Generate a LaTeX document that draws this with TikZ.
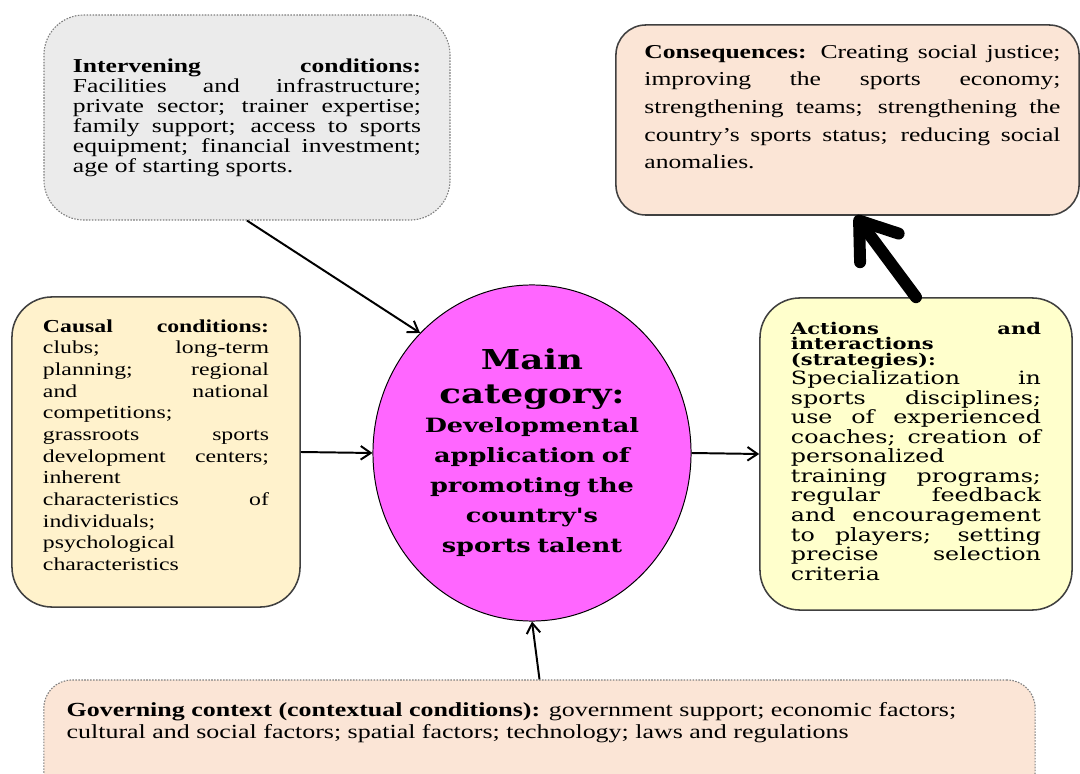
\documentclass[tikz,border=0pt]{standalone}
\usepackage{fontspec}
\setmainfont[FakeStretch=1.3]{Liberation Serif}
\newfontfamily\wideserif[FakeStretch=1.3]{DejaVu Serif}
\usetikzlibrary{arrows.meta,positioning,shapes.geometric}
\definecolor{boxgray}{RGB}{235,235,235}
\definecolor{boxpeach}{RGB}{251,229,214}
\definecolor{boxcream}{RGB}{255,242,204}
\definecolor{boxlemon}{RGB}{255,255,204}
\definecolor{coremagenta}{RGB}{255,102,255}
\definecolor{edgegray}{RGB}{64,64,64}
\hyphenpenalty=10000
\exhyphenpenalty=10000
\tolerance=10000

\begin{document}
\begin{tikzpicture}[x=0.025cm,y=-0.025cm,
    box/.style={draw=edgegray, line width=1.1pt, rounded corners=1cm, inner sep=0pt, align=justify},
    dotbox/.style={box, draw=gray, densely dotted, line width=0.8pt},
    link/.style={-{Straight Barb[length=2.5mm,width=3.4mm]}, line width=1.4pt},
    bigarrow/.style={-{Straight Barb[length=8.5mm,width=12mm,round]}, line width=8.5pt, line cap=round}]
    \clip (0,0) rectangle (1080,774);
    % boxes round the main category
    \node[dotbox, fill=boxgray, minimum width=10.15cm, minimum height=5.125cm, text width=8.7cm,
          font=\fontsize{14}{14.2}\selectfont] (inter) at (247,117.5)
      {\textbf{Intervening conditions:}\linebreak Facilities and infrastructure;\linebreak private sector; trainer expertise;\linebreak family support; access to sports\linebreak equipment; financial investment;\linebreak age of starting sports.};
    \node[box, fill=boxpeach, rounded corners=0.75cm, minimum width=11.575cm, minimum height=4.75cm] (cons) at (847.5,120) {};
    \node[below right=0.5cm and 0.725cm of cons.north west, anchor=north west, inner sep=0pt, text width=10.4cm, align=justify,
          font=\fontsize{14}{19.7}\selectfont] (constext)
      {\textbf{Consequences:} Creating social justice;\linebreak improving the sports economy;\linebreak strengthening teams; strengthening the\linebreak country's sports status; reducing social\linebreak anomalies.};
    \node[box, fill=boxcream, minimum width=7.2cm, minimum height=7.75cm, text width=5.65cm,
          font=\fontsize{13}{15.4}\selectfont] (causal) at (156,452)
      {\textbf{Causal conditions:}\linebreak clubs; long-term\linebreak planning; regional\linebreak and national\linebreak competitions;\\ grassroots sports\linebreak development centers;\linebreak inherent\\ characteristics of\linebreak individuals;\\ psychological\\ characteristics\rule[-0.35cm]{0pt}{0.35cm}};
    \node[box, fill=boxlemon, minimum width=7.8cm, minimum height=7.8cm, text width=6.25cm,
          font=\wideserif\fontsize{13}{13.9}\selectfont] (actions) at (916,454)
      {{\fontsize{11.5}{11}\selectfont\bfseries Actions and\linebreak interactions\\ (strategies):\par}
       Specialization in\linebreak sports disciplines;\linebreak use of experienced\linebreak coaches; creation of\linebreak personalized\\ training programs;\linebreak regular feedback\linebreak and encouragement\linebreak to players; setting\linebreak precise selection\linebreak criteria\rule[-0.15cm]{0pt}{0.15cm}};
    \node[ellipse, draw, line width=0.7pt, fill=coremagenta, minimum width=7.95cm, minimum height=8.4cm, inner sep=0pt,
          text width=5.5cm, align=center, font=\wideserif\bfseries\fontsize{14}{21.3}\selectfont] (main) at (532,453)
      {{\fontsize{19.5}{23.5}\selectfont Main\\ category:\par}
       Developmental\\ application of\\ promoting the\\ country's\\ sports talent};
    \node[dotbox, fill=boxpeach, rounded corners=0.7cm, minimum width=24.775cm, minimum height=3cm] (gov) at (539.5,740) {};
    \node[below right=0.58cm and 0.575cm of gov.north west, anchor=north west, inner sep=0pt, align=left,
          font=\fontsize{14.2}{15.6}\selectfont] (govtext)
      {\textbf{Governing context (contextual conditions):} government support; economic factors;\\ cultural and social factors; spatial factors; technology; laws and regulations};
    % arrows
    \draw[link] (inter.south) -- (main.133);
    \draw[link] (causal.east) -- (main.west);
    \draw[link] (main.east) -- (actions.west);
    \draw[link] (gov.north) -- (main.south);
    \draw[bigarrow] (actions.north) -- ([xshift=0.2cm]cons.south);
\end{tikzpicture}
\end{document}
